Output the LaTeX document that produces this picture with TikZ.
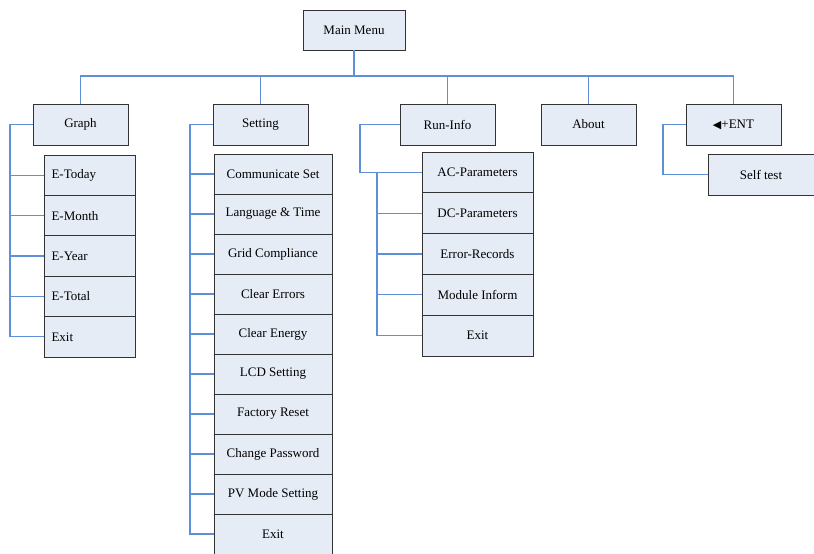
\documentclass[tikz,border=0pt]{standalone}
\usepackage{fontspec}
\setmainfont{Liberation Serif}
\newfontfamily\symfont{DejaVu Sans}
\definecolor{boxfill}{HTML}{E6ECF6}
\definecolor{boxline}{HTML}{333333}
\definecolor{conncol}{HTML}{5F8FD6}
\tikzset{
  box/.style={draw=boxline, fill=boxfill, line width=0.9pt, inner sep=0pt, font=\fontsize{13}{15}\selectfont},
  topbox/.style={box, minimum width=95pt, minimum height=41pt},
  gbox/.style={box, minimum width=91pt, minimum height=40.4pt, text width=76pt, align=left},
  sbox/.style={box, minimum width=118pt, minimum height=40pt, align=center},
  rbox/.style={box, minimum width=111pt, minimum height=40.8pt, align=center},
  conn/.style={draw=conncol, line width=1.1pt}
}
\begin{document}
\begin{tikzpicture}[x=1pt,y=-1pt]
\useasboundingbox (0,0) rectangle (814,554);
% coordinates for buses/spines
\coordinate (bus) at (0,76);
\coordinate (gsp) at (10,0);
\coordinate (ssp) at (190,0);
\coordinate (rsp1) at (360,0);
\coordinate (rsp2) at (377,0);
\coordinate (esp) at (663,0);
% boxes
\node[box, minimum width=102pt, minimum height=40pt] (main) at (354,30) {Main Menu};
\node[topbox] (graph) at (80.5,124.5) {Graph};
\node[topbox] (setting) at (260.5,124.5) {Setting};
\node[topbox] (run) at (447.5,124.5) {Run-Info};
\node[topbox] (about) at (588.5,124.5) {About};
\node[topbox] (ent) at (733.5,124.5) {{\symfont\fontsize{11}{13}\selectfont ◀}+ENT};
\node[box, minimum width=106pt, minimum height=41pt] (self) at (761,174.5) {Self test};
% Graph children
\node[gbox] (g1) at (89.5,175.2) {E-Today};
\node[gbox] (g2) at (89.5,215.6) {E-Month};
\node[gbox] (g3) at (89.5,256.0) {E-Year};
\node[gbox] (g4) at (89.5,296.4) {E-Total};
\node[gbox] (g5) at (89.5,336.8) {Exit};
% Setting children
\node[sbox] (s1) at (273,174) {Communicate Set};
\node[sbox] (s2) at (273,214) {Language \& Time};
\node[sbox] (s3) at (273,254) {Grid Compliance};
\node[sbox] (s4) at (273,294) {Clear Errors};
\node[sbox] (s5) at (273,334) {Clear Energy};
\node[sbox] (s6) at (273,374) {LCD Setting};
\node[sbox] (s7) at (273,414) {Factory Reset};
\node[sbox] (s8) at (273,454) {Change Password};
\node[sbox] (s9) at (273,494) {PV Mode Setting};
\node[sbox] (s10) at (273,534) {Exit};
% Run-Info children
\node[rbox] (r1) at (477.5,172.4) {AC-Parameters};
\node[rbox] (r2) at (477.5,213.2) {DC-Parameters};
\node[rbox] (r3) at (477.5,254.0) {Error-Records};
\node[rbox] (r4) at (477.5,294.8) {Module Inform};
\node[rbox] (r5) at (477.5,335.6) {Exit};
% connectors
\draw[conn] (main.south) -- (main.south |- bus);
\draw[conn] (graph.north) -- (graph.north |- bus) -- (ent.north |- bus) -- (ent.north);
\draw[conn] (setting.north) -- (setting.north |- bus);
\draw[conn] (run.north) -- (run.north |- bus);
\draw[conn] (about.north) -- (about.north |- bus);
% Graph
\draw[conn] (graph.west) -- (graph.west -| gsp) -- (g5.west -| gsp) -- (g5.west);
\foreach \n in {g1,g2,g3,g4} \draw[conn] (\n.west -| gsp) -- (\n.west);
% Setting
\draw[conn] (setting.west) -- (setting.west -| ssp) -- (s10.west -| ssp) -- (s10.west);
\foreach \n in {s1,s2,s3,s4,s5,s6,s7,s8,s9} \draw[conn] (\n.west -| ssp) -- (\n.west);
% Run-Info
\draw[conn] (run.west) -- (run.west -| rsp1) -- (r1.west -| rsp1) -- (r1.west);
\draw[conn] (r1.west -| rsp2) -- (r5.west -| rsp2) -- (r5.west);
\foreach \n in {r2,r3,r4} \draw[conn] (\n.west -| rsp2) -- (\n.west);
% ENT
\draw[conn] (ent.west) -- (ent.west -| esp) -- (self.west -| esp) -- (self.west);
\end{tikzpicture}
\end{document}
